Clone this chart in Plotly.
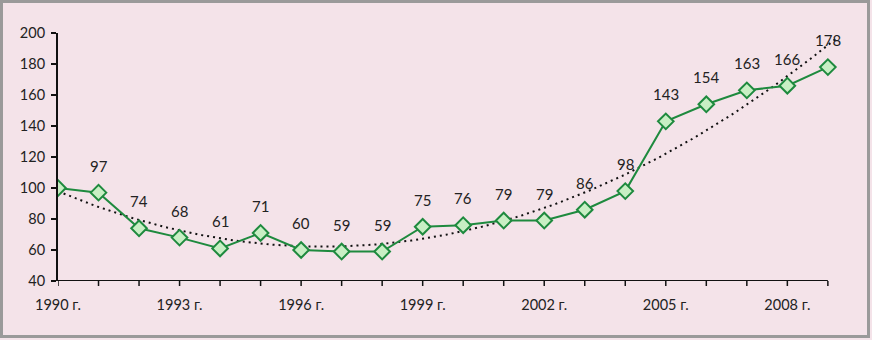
import numpy as np
import plotly.graph_objects as go

years = list(range(1990, 2010))
values = [100, 97, 74, 68, 61, 71, 60, 59, 59, 75, 76, 79, 79, 86, 98, 143, 154, 163, 166, 178]
label_years = years[1:]
label_values = values[1:]
tick_years = [1990, 1993, 1996, 1999, 2002, 2005, 2008]
tick_text = [f"{y} г." for y in tick_years]

# polynomial (2nd order) trend line fitted to the series
coef = np.polyfit(np.array(years) - 1990, values, 2)
tx = np.linspace(1990, 2009.25, 200)
ty = np.polyval(coef, tx - 1990)

W, H = 872, 340
ml, mr, mt, mb = 58, 34, 33, 59
x_end = 2009 + 0.25  # slight extension for the trend line
pw = W - ml - mr
ph = H - mt - mb

fig = go.Figure()
fig.add_trace(go.Scatter(x=tx, y=ty, mode="lines",
                         line=dict(color="#111111", width=2, dash="2px,4px"),
                         hoverinfo="skip", showlegend=False))
fig.add_trace(go.Scatter(x=years, y=values, mode="lines+markers",
                         line=dict(color="#1e8a3e", width=2),
                         marker=dict(symbol="diamond", size=12, color="#c8efc4",
                                     line=dict(color="#1e8a3e", width=2)),
                         showlegend=False))

FONT = "Lato, Open Sans, sans-serif"
ann = []
for x, v in zip(label_years, label_values):
    ann.append(dict(x=x, y=v, text=str(v), showarrow=False, yshift=27,
                    font=dict(family=FONT, size=15, color="#222222")))

def px2paper_x(p):
    return (p - ml) / pw

def px2paper_y(p):
    return (H - mb - p) / ph

shapes = [
    dict(type="line", xref="x", yref="y", x0=1990, x1=2009, y0=40, y1=40,
         line=dict(color="#111111", width=2)),
    dict(type="rect", xref="paper", yref="paper",
         x0=px2paper_x(1.5), x1=px2paper_x(W - 3.5), y0=px2paper_y(H - 3.5), y1=px2paper_y(1.5),
         line=dict(color="#9a9a9a", width=3), layer="above"),
]
for yv in years:
    shapes.append(dict(type="line", xref="x", yref="paper", x0=yv, x1=yv,
                       y0=0, y1=-5 / ph, line=dict(color="#111111", width=1.5)))

fig.update_layout(
    width=W, height=H,
    margin=dict(l=ml, r=mr, t=mt, b=mb, pad=0),
    paper_bgcolor="#f4e3e9", plot_bgcolor="#f4e3e9",
    font=dict(family=FONT, size=14, color="#222222"),
    annotations=ann, shapes=shapes,
    xaxis=dict(range=[1990, x_end], tickvals=tick_years, ticktext=tick_text,
               showgrid=False, zeroline=False, showline=False, ticks="",
               ticklabelstandoff=13, tickfont=dict(size=14.5)),
    yaxis=dict(range=[40, 200], tickvals=list(range(40, 201, 20)), showgrid=False,
               zeroline=False, showline=True, linecolor="#111111", linewidth=2,
               ticks="outside", ticklen=5, tickcolor="#111111", tickwidth=1.5,
               ticklabelstandoff=3, tickfont=dict(size=14.5)),
)
fig.write_html("out.html", config={"displayModeBar": False},
               post_script="document.body.style.margin='0';document.body.style.padding='0';")
